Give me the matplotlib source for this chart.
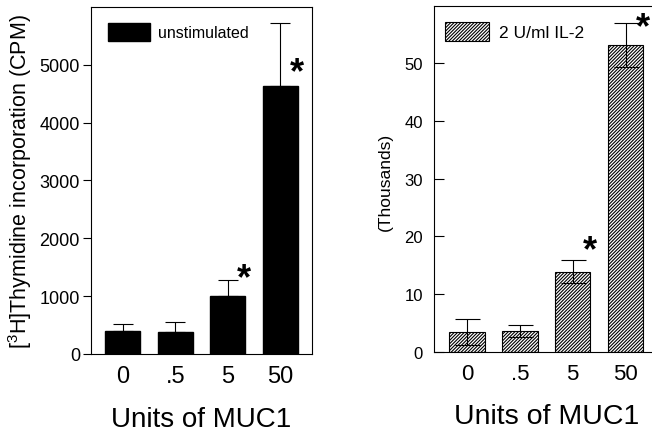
import numpy as np
import matplotlib
matplotlib.use("Agg")
import matplotlib.pyplot as plt

plt.rcParams['font.family'] = ['Liberation Sans', 'DejaVu Sans']
plt.rcParams['mathtext.fontset'] = 'custom'
plt.rcParams['mathtext.rm'] = 'Liberation Sans'
plt.rcParams['hatch.linewidth'] = 0.8

# data
doses = ["0", ".5", "5", "50"]
unstim_mean = [390, 380, 1000, 4640]
unstim_err = [120, 170, 280, 1080]
il2_mean = [3.4, 3.6, 13.9, 53.2]   # thousands of CPM
il2_err = [2.2, 1.1, 2.0, 3.8]
unstim_stars = [(2, 1400), (3, 4970)]
il2_stars = [(2, 18.5), (3, 57.2)]

x = np.arange(len(doses))
W = 0.67

fig = plt.figure(figsize=(6.52, 4.35), dpi=100)

# left panel: unstimulated
ax1 = fig.add_axes([0.1396, 0.184, 0.339, 0.798])
ax1.bar(x, unstim_mean, W, color='black', edgecolor='black', label='unstimulated', zorder=2)
ax1.errorbar(x, unstim_mean, yerr=[np.zeros(4), unstim_err], fmt='none', ecolor='black',
             elinewidth=0.8, capsize=7, capthick=0.8, zorder=1)
for i, v in unstim_stars:
    ax1.annotate('*', (i + 0.31, v), xytext=(0, -6), textcoords='offset pixels',
                 ha='center', va='center', fontsize=26, fontweight='bold')
ax1.set_xlim(-0.6, 3.6)
ax1.set_ylim(0, 6000)
ax1.set_yticks([0, 1000, 2000, 3000, 4000, 5000])
ax1.tick_params(axis='y', direction='out', length=6, width=0.8, labelsize=13, pad=2)
ax1.set_xticks(x)
ax1.set_xticklabels(doses, fontsize=17)
ax1.tick_params(axis='x', length=0, pad=8)
for s in ax1.spines.values():
    s.set_linewidth(0.8)
ax1.legend(loc='center left', bbox_to_anchor=(0.077, 0.928), frameon=False, fontsize=11.5,
           handlelength=2.6, handleheight=1.35, handletextpad=0.55, borderpad=0, borderaxespad=0)

# right panel: IL-2
ax2 = fig.add_axes([0.666, 0.189, 0.342, 0.796])
ax2.bar(x, il2_mean, W, color='white', edgecolor='black', hatch='//////////', linewidth=0.8,
        label='2 U/ml IL-2', zorder=2)
ax2.errorbar(x, il2_mean, yerr=il2_err, fmt='none', ecolor='black',
             elinewidth=0.8, capsize=9, capthick=0.8, zorder=3)
for i, v in il2_stars:
    ax2.annotate('*', (i + 0.33, v), xytext=(0, -6), textcoords='offset pixels',
                 ha='center', va='center', fontsize=26, fontweight='bold')
ax2.set_xlim(-0.62, 3.6)
ax2.set_ylim(0, 60)
ax2.set_yticks([0, 10, 20, 30, 40, 50])
ax2.tick_params(axis='y', direction='in', length=7, width=0.8, labelsize=12, pad=8)
ax2.set_xticks(x)
ax2.set_xticklabels(doses, fontsize=16)
ax2.tick_params(axis='x', length=0, pad=8)
for s in ax2.spines.values():
    s.set_linewidth(0.8)
ax2.legend(loc='center left', bbox_to_anchor=(0.05, 0.925), frameon=False, fontsize=12.5,
           handlelength=2.5, handleheight=1.3, handletextpad=0.6, borderpad=0, borderaxespad=0)

fig.text(0.031, 0.582, r'[$\mathregular{^3}$H]Thymidine incorporation (CPM)', rotation=90,
         ha='center', va='center', fontsize=15.5)
fig.text(0.591, 0.582, '(Thousands)', rotation=90, ha='center', va='center', fontsize=12.5)
fig.text(0.309, 0.035, 'Units of MUC1', ha='center', va='center', fontsize=20)
fig.text(0.838, 0.042, 'Units of MUC1', ha='center', va='center', fontsize=20.5)

fig.savefig('out.png', dpi=100)
